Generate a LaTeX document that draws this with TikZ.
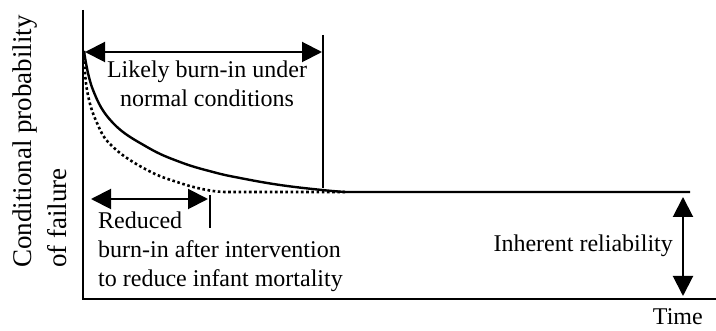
\documentclass[tikz,border=0pt]{standalone}
\usepackage{fontspec}
\setmainfont{Liberation Serif}
\usetikzlibrary{arrows.meta}
\begin{document}
\begin{tikzpicture}[x=1pt,y=-1pt,
  every node/.style={inner sep=0pt,font=\fontsize{24}{29}\selectfont},
  axisline/.style={line width=2.6pt},
  bigtip/.tip={Triangle[length=20pt,width=20pt]},
  dimarrow/.style={line width=2pt,bigtip-bigtip},
  marker/.style={line width=1.6pt},
  curve/.style={line width=2.4pt,line join=round},
  dotcurve/.style={line width=2.6pt,dash pattern=on 2.6pt off 2.6pt}]
\useasboundingbox (0,0) rectangle (716,331);

% axes
\coordinate (top) at (83,10);
\coordinate (origin) at (83,299);
\coordinate (xend) at (716,299);
\draw[axisline] (top) -- (origin) -- (xend);

% key points
\coordinate (flatend) at (690,192);
\coordinate (solidmeet) at (345,192);
\coordinate (a1) at (85,52);
\coordinate (a2) at (322,52);
\coordinate (v1) at (323,35);
\coordinate (v2) at (323,188);
\coordinate (r1) at (91,199);
\coordinate (r2) at (208,199);
\coordinate (t1) at (210,195);
\coordinate (t2) at (210,228);
\coordinate (i1) at (683,197);
\coordinate (i2) at (683,296);

% reduced burn-in curve (dotted)
\draw[dotcurve] plot[smooth,tension=0.7] coordinates
  {(84,51) (87,90) (97,123) (113,147) (147,170) (180,183) (207,190) (225,192)}
  -- (solidmeet);

% normal burn-in curve and constant failure level
\draw[curve] plot[smooth,tension=0.7] coordinates
  {(84,51) (93,90) (113,123) (147,147) (180,162) (213,172) (240,178) (280,185) (322,190) (345,192)}
  -- (flatend);

% dimension markers
\draw[dimarrow] (a1) -- (a2);
\draw[marker] (v1) -- (v2);
\draw[dimarrow] (r1) -- (r2);
\draw[marker] (t1) -- (t2);
\draw[dimarrow] (i1) -- (i2);

% labels (base anchor sits on the last line)
\node[anchor=base,align=center] (likely) at (207,107) {Likely burn-in under\\normal conditions};
\node[anchor=base west,align=left] (reduced) at (98,287) {Reduced\\burn-in after intervention\\to reduce infant mortality};
\node[anchor=base east] (inherent) at (673,252) {Inherent reliability};
\node[anchor=base east] (time) at (703,325) {Time};
\node[anchor=base west,align=left,rotate=90,font=\fontsize{27}{35}\selectfont] (ylabel) at (66,268)
  {Conditional probability\\of failure};
\end{tikzpicture}
\end{document}
